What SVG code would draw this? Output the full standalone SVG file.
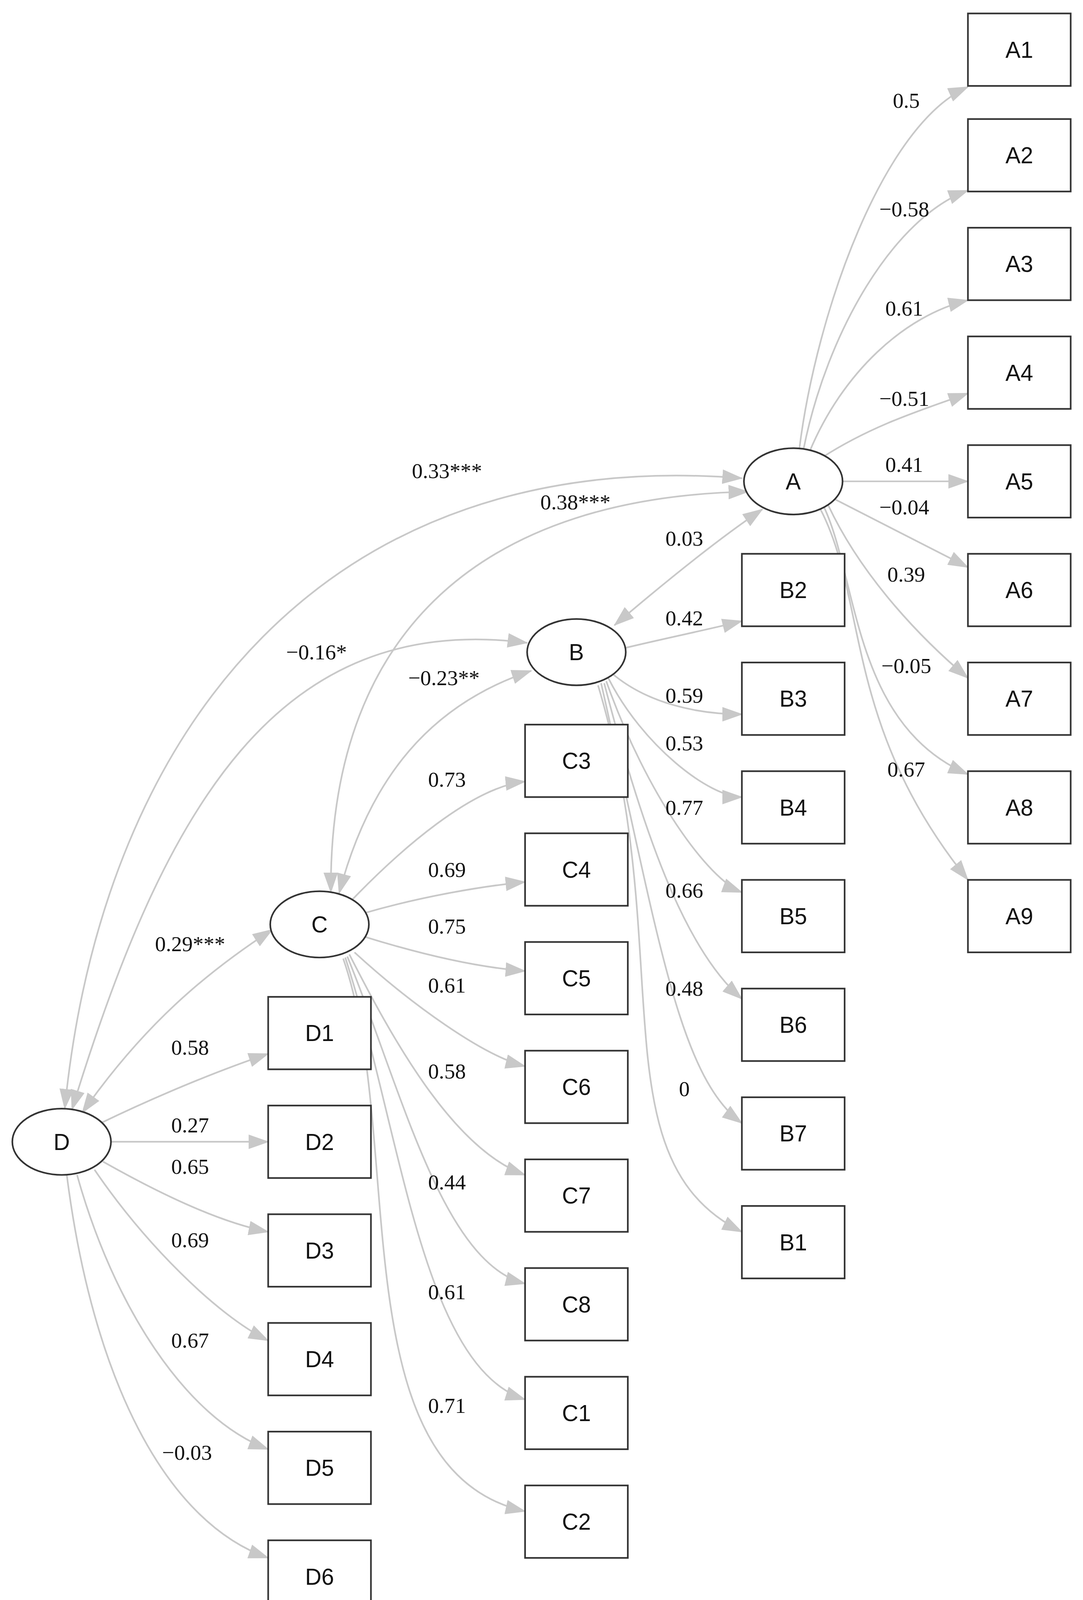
<svg xmlns="http://www.w3.org/2000/svg" width="2772" height="4135" viewBox="0 0 2772 4135">
<style>
.n rect,.n ellipse{fill:#fff;stroke:#333;stroke-width:1.6}
.n text{font-family:"Liberation Sans",Arial,sans-serif;font-size:22px;text-anchor:middle;dominant-baseline:central;fill:#111}
.e path{fill:none;stroke:#c8c8c8;stroke-width:1.6;marker-end:url(#ah)}
.e path.d{marker-start:url(#ah)}
.l text{font-family:"Liberation Serif","Times New Roman",serif;font-size:21px;text-anchor:middle;dominant-baseline:central;fill:#111}
</style>
<defs>
<marker id="ah" markerUnits="userSpaceOnUse" markerWidth="20" markerHeight="14" refX="19" refY="7" orient="auto-start-reverse" viewBox="0 0 20 14"><path d="M0,0 L20,7 L0,14 Z" fill="#c8c8c8"/></marker>
</defs>
<rect width="2772" height="4135" fill="#fff"/>
<g transform="scale(2.63,2.65)">
<g class="e" id="connectors">
<path d="M778,433 C795,300 860,120 942,84"/>
<path d="M782,434 C805,320 870,210 942,184"/>
<path d="M788,436 C820,360 880,305 942,290"/>
<path d="M800,442 C850,410 900,395 942,380"/>
<path d="M820,465 L942,465"/>
<path d="M812,482 L942,548"/>
<path d="M806,488 C840,560 900,620 942,655"/>
<path d="M802,490 C835,560 830,700 942,748"/>
<path d="M798,491 C845,580 820,700 942,850"/>
<path d="M608,626 C650,616 690,608 722,600"/>
<path d="M595,650 C630,680 680,690 722,690"/>
<path d="M592,655 C625,720 690,770 722,770"/>
<path d="M590,658 C630,770 690,850 722,862"/>
<path d="M588,660 C630,820 670,920 722,965"/>
<path d="M585,660 C640,900 660,1040 722,1085"/>
<path d="M582,662 C660,920 580,1120 722,1190"/>
<path d="M340,872 C390,820 460,760 511,755"/>
<path d="M355,882 C410,866 470,856 511,852"/>
<path d="M355,905 C420,925 470,935 511,938"/>
<path d="M345,920 C400,970 470,1020 511,1030"/>
<path d="M340,922 C380,1000 440,1110 511,1135"/>
<path d="M338,924 C390,1050 430,1220 511,1240"/>
<path d="M336,925 C390,1090 410,1320 511,1352"/>
<path d="M334,926 C395,1100 330,1420 511,1460"/>
<path d="M98,1085 C150,1060 210,1035 261,1018"/>
<path d="M108,1103 L261,1103"/>
<path d="M100,1122 C150,1150 210,1180 261,1190"/>
<path d="M92,1130 C140,1200 210,1270 261,1295"/>
<path d="M75,1135 C110,1260 180,1370 261,1400"/>
<path d="M65,1135 C90,1330 160,1470 261,1505"/>
<path class="d" d="M63,1071 C100,700 320,430 722,462"/>
<path class="d" d="M322,862 C320,600 480,480 728,475"/>
<path class="d" d="M598,604 C650,560 700,520 742,492"/>
<path class="d" d="M70,1072 C160,780 270,590 513,621"/>
<path class="d" d="M330,863 C360,750 420,680 517,648"/>
<path class="d" d="M80,1075 C140,990 200,940 265,898"/>
</g>
<g class="l" id="labels">
<text x="882" y="97">0.5</text><text x="880" y="202">−0.58</text><text x="880" y="298">0.61</text><text x="880" y="385">−0.51</text><text x="880" y="449">0.41</text><text x="880" y="490">−0.04</text><text x="882" y="555">0.39</text><text x="882" y="643">−0.05</text><text x="882" y="743">0.67</text>
<text x="666" y="597">0.42</text><text x="666" y="672">0.59</text><text x="666" y="718">0.53</text><text x="666" y="780">0.77</text><text x="666" y="860">0.66</text><text x="666" y="955">0.48</text><text x="666" y="1052">0</text>
<text x="435" y="753">0.73</text><text x="435" y="840">0.69</text><text x="435" y="895">0.75</text><text x="435" y="952">0.61</text><text x="435" y="1035">0.58</text><text x="435" y="1142">0.44</text><text x="435" y="1248">0.61</text><text x="435" y="1358">0.71</text>
<text x="185" y="1012">0.58</text><text x="185" y="1087">0.27</text><text x="185" y="1127">0.65</text><text x="185" y="1198">0.69</text><text x="185" y="1295">0.67</text><text x="182" y="1403">−0.03</text>
<text x="435" y="455">0.33***</text><text x="560" y="485">0.38***</text><text x="666" y="520">0.03</text><text x="308" y="630">−0.16*</text><text x="432" y="655">−0.23**</text><text x="185" y="912">0.29***</text>
</g>
<g class="n" id="A"><ellipse cx="772" cy="465" rx="48" ry="32"/><text x="772" y="465">A</text></g>
<g class="n" id="B"><ellipse cx="561" cy="630" rx="48" ry="32"/><text x="561" y="630">B</text></g>
<g class="n" id="C"><ellipse cx="311" cy="893" rx="48" ry="32"/><text x="311" y="893">C</text></g>
<g class="n" id="D"><ellipse cx="60" cy="1103" rx="48" ry="32"/><text x="60" y="1103">D</text></g>
<g class="n" id="A1"><rect x="942" y="13" width="100" height="70"/><text x="992" y="48">A1</text></g>
<g class="n" id="A2"><rect x="942" y="115" width="100" height="70"/><text x="992" y="150">A2</text></g>
<g class="n" id="A3"><rect x="942" y="220" width="100" height="70"/><text x="992" y="255">A3</text></g>
<g class="n" id="A4"><rect x="942" y="325" width="100" height="70"/><text x="992" y="360">A4</text></g>
<g class="n" id="A5"><rect x="942" y="430" width="100" height="70"/><text x="992" y="465">A5</text></g>
<g class="n" id="A6"><rect x="942" y="535" width="100" height="70"/><text x="992" y="570">A6</text></g>
<g class="n" id="A7"><rect x="942" y="640" width="100" height="70"/><text x="992" y="675">A7</text></g>
<g class="n" id="A8"><rect x="942" y="745" width="100" height="70"/><text x="992" y="780">A8</text></g>
<g class="n" id="A9"><rect x="942" y="850" width="100" height="70"/><text x="992" y="885">A9</text></g>
<g class="n" id="B2"><rect x="722" y="535" width="100" height="70"/><text x="772" y="570">B2</text></g>
<g class="n" id="B3"><rect x="722" y="640" width="100" height="70"/><text x="772" y="675">B3</text></g>
<g class="n" id="B4"><rect x="722" y="745" width="100" height="70"/><text x="772" y="780">B4</text></g>
<g class="n" id="B5"><rect x="722" y="850" width="100" height="70"/><text x="772" y="885">B5</text></g>
<g class="n" id="B6"><rect x="722" y="955" width="100" height="70"/><text x="772" y="990">B6</text></g>
<g class="n" id="B7"><rect x="722" y="1060" width="100" height="70"/><text x="772" y="1095">B7</text></g>
<g class="n" id="B1"><rect x="722" y="1165" width="100" height="70"/><text x="772" y="1200">B1</text></g>
<g class="n" id="C3"><rect x="511" y="700" width="100" height="70"/><text x="561" y="735">C3</text></g>
<g class="n" id="C4"><rect x="511" y="805" width="100" height="70"/><text x="561" y="840">C4</text></g>
<g class="n" id="C5"><rect x="511" y="910" width="100" height="70"/><text x="561" y="945">C5</text></g>
<g class="n" id="C6"><rect x="511" y="1015" width="100" height="70"/><text x="561" y="1050">C6</text></g>
<g class="n" id="C7"><rect x="511" y="1120" width="100" height="70"/><text x="561" y="1155">C7</text></g>
<g class="n" id="C8"><rect x="511" y="1225" width="100" height="70"/><text x="561" y="1260">C8</text></g>
<g class="n" id="C1"><rect x="511" y="1330" width="100" height="70"/><text x="561" y="1365">C1</text></g>
<g class="n" id="C2"><rect x="511" y="1435" width="100" height="70"/><text x="561" y="1470">C2</text></g>
<g class="n" id="D1"><rect x="261" y="963" width="100" height="70"/><text x="311" y="998">D1</text></g>
<g class="n" id="D2"><rect x="261" y="1068" width="100" height="70"/><text x="311" y="1103">D2</text></g>
<g class="n" id="D3"><rect x="261" y="1173" width="100" height="70"/><text x="311" y="1208">D3</text></g>
<g class="n" id="D4"><rect x="261" y="1278" width="100" height="70"/><text x="311" y="1313">D4</text></g>
<g class="n" id="D5"><rect x="261" y="1383" width="100" height="70"/><text x="311" y="1418">D5</text></g>
<g class="n" id="D6"><rect x="261" y="1488" width="100" height="70"/><text x="311" y="1523">D6</text></g>
</g>
</svg>
